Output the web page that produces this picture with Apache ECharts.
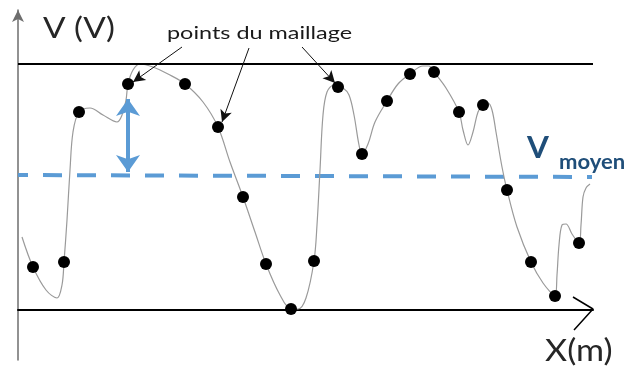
<!DOCTYPE html>
<html>
<head>
<meta charset="utf-8">
<script src="https://cdn.jsdelivr.net/npm/echarts@6/dist/echarts.min.js"></script>
<style>
  html, body { margin: 0; padding: 0; background: #fff; }
  #chart { width: 624px; height: 371px; }
</style>
</head>
<body>
<div id="chart"></div>
<script>
(function() {
  'use strict';

  // signal: [x (m), V]
  var curve = [
    [4,73],[15,43],[28,20],[39,12],[44,25],[46,48],[49,90],[52,140],[55,178],[61,198],
    [72,202],[85,195],[99,188],[104,195],[108,210],[110,226],[115,240],[122,246],[135,243],[150,236],
    [167,226],[185,208],[200,183],[212,148],[225,113],[237,78],[248,46],[262,15],[273,1],[280,1],
    [288,12],[296,49],[299,85],[302,140],[305,195],[309,218],[316,225],[325,222],[331,215],[336,195],
    [341,165],[344,156],[350,166],[357,188],[369,209],[380,226],[392,236],[405,244],[411,244],[416,238],
    [428,222],[441,198],[445,180],[450,165],[455,178],[460,198],[465,205],[470,207],[474,200],[478,178],
    [484,143],[489,120],[499,83],[513,48],[525,27],[537,14],[539,35],[541,65],[544,85],[548,86],
    [554,76],[561,67],[563,85],[565,113],[568,122],[572,126]
  ];

  // mesh points (points du maillage)
  var meshPoints = [
    [15,43],[46,48],[61,198],[110,226],[167,226],[200,183],[225,113],[248,46],[273,1],[296,49],
    [320,223],[344,156],[369,209],[392,236],[416,238],[441,198],[465,205],[489,120],[513,48],[537,14],[561,67]
  ];

  var vMax = 246;
  var vMeanLine = [[0,135],[574,133]];
  var ecartArrow = [[110,211],[110,138]];
  var labelArrows = [
    [[164,263],[115,228]],
    [[231,262],[204,188]],
    [[284,263],[317,227]]
  ];
  var xArrowHead = [[555,13],[575,1],[556,-20]];

  var FONT = 'Lato, "Open Sans", sans-serif';

  function label(text, left, midY, font, color, sx) {
    return {
      type: 'text', x: left, y: midY, scaleX: sx, silent: true,
      style: { text: text, x: 0, y: 0, font: font, fill: color, verticalAlign: 'middle' }
    };
  }

  var chart = echarts.init(document.getElementById('chart'), null, { renderer: 'canvas' });

  chart.setOption({
    animation: false,
    grid: { left: 18, right: 31, top: 10, bottom: 11 },
    xAxis: {
      type: 'value', min: 0, max: 575,
      axisLine: { show: true, onZero: true, lineStyle: { color: '#000', width: 2 } },
      axisTick: { show: false }, axisLabel: { show: false }, splitLine: { show: false }
    },
    yAxis: {
      type: 'value', min: -50, max: 300,
      axisLine: { show: true, onZero: false, symbol: ['none', 'arrow'], symbolSize: [9, 12], lineStyle: { color: '#6e6e6e', width: 1.5 } },
      axisTick: { show: false }, axisLabel: { show: false }, splitLine: { show: false }
    },
    series: [
      {
        name: 'V(x)',
        type: 'line',
        data: curve,
        smooth: 0.35,
        showSymbol: false,
        silent: true,
        z: 3,
        lineStyle: { color: '#9a9a9a', width: 1.2 },
        markLine: {
          silent: true,
          symbol: ['none', 'none'],
          label: { show: false },
          lineStyle: { color: '#000', width: 2, type: 'solid' },
          data: [{ yAxis: vMax }]
        }
      },
      {
        name: 'V moyen',
        type: 'line',
        data: vMeanLine,
        showSymbol: false,
        silent: true,
        z: 2,
        lineStyle: { color: '#5b9bd5', width: 4, type: [19, 15], dashOffset: 9 },
        markLine: {
          silent: true,
          symbol: ['arrow', 'arrow'],
          symbolSize: [18, 17],
          label: { show: false },
          lineStyle: { color: '#5b9bd5', width: 4, type: 'solid' },
          data: [[{ coord: ecartArrow[0] }, { coord: ecartArrow[1] }]]
        }
      },
      {
        name: 'points du maillage',
        type: 'scatter',
        data: meshPoints,
        symbolSize: 12,
        itemStyle: { color: '#000', opacity: 1 },
        z: 5,
        markLine: {
          silent: true,
          symbol: ['none', 'arrow'],
          symbolSize: [9, 12],
          label: { show: false },
          lineStyle: { color: '#111', width: 1, type: 'solid' },
          data: labelArrows.map(function(a) { return [{ coord: a[0] }, { coord: a[1] }]; })
        }
      },
      {
        name: 'x arrow',
        type: 'line',
        data: xArrowHead,
        showSymbol: false,
        silent: true,
        clip: false,
        lineStyle: { color: '#000', width: 1.5 }
      }
    ],
    graphic: [
      label('V (V)', 43, 29, '29px ' + FONT, '#262626', 1.15),
      label('points du maillage', 167, 33, '18px ' + FONT, '#1a1a1a', 1.3),
      label('V', 527, 148, 'bold 30px ' + FONT, '#1f4e79', 1.05),
      label('moyen', 559, 162, 'bold 21px ' + FONT, '#1f4e79', 1.05),
      label('X(m)', 545, 351, '31px ' + FONT, '#262626', 1.1)
    ]
  });

  window.addEventListener('resize', function() { chart.resize(); });
})();
</script>
</body>
</html>
